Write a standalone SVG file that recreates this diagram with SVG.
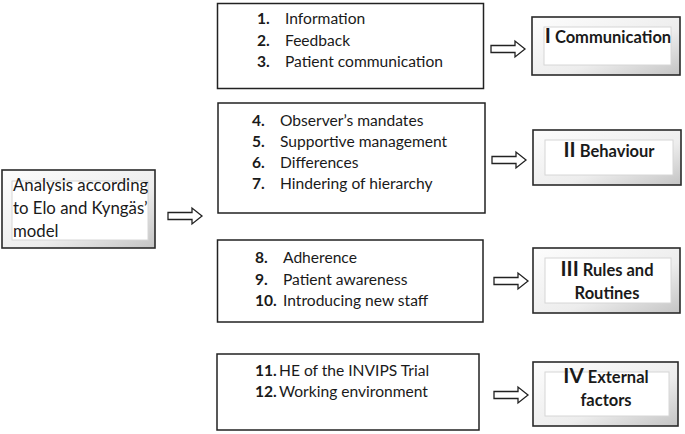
<svg xmlns="http://www.w3.org/2000/svg" width="685" height="434" viewBox="0 0 685 434">
<style>
text{font-family:Lato,"Open Sans","Liberation Sans",sans-serif;fill:#1a1a1a}
.item{font-size:15.6px}
.big{font-size:16.8px}
.num{font-weight:bold}
.lab{font-size:16.5px;font-weight:bold;text-anchor:middle}
.rn{font-size:20.5px}
.box{fill:#fff;stroke:#222;stroke-width:1.5}
.outer{fill:url(#bev);stroke:#2a2a2a;stroke-width:1.6}
.inner{fill:#fff;stroke:#d6d6d6;stroke-width:1}
.arr{fill:#fff;stroke:#222;stroke-width:1.3;stroke-linejoin:miter}
</style>
<defs>
<linearGradient id="bev" x1="0" y1="0" x2="1" y2="1">
<stop offset="0" stop-color="#fdfdfd"/>
<stop offset="0.6" stop-color="#ededed"/>
<stop offset="1" stop-color="#c4c4c4"/>
</linearGradient>
<path id="arrow" class="arr" d="M0,-3.5 H24 V-8 L34,0 L24,8 V3.5 H0 Z"/>
</defs>
<rect width="685" height="434" fill="#fff"/>

<g id="node-analysis">
<rect class="outer" x="2" y="170" width="153" height="78"/>
<rect class="inner" x="12" y="181" width="136" height="59"/>
<text class="big" x="13" y="191">Analysis according</text>
<text class="big" x="13" y="214">to Elo and Kyngäs’</text>
<text class="big" x="13" y="237">model</text>
</g>

<g id="node-list1">
<rect class="box" x="217.5" y="3.5" width="266" height="85"/>
<text class="item"><tspan class="num" x="257" y="24">1.</tspan><tspan x="285">Information</tspan></text>
<text class="item"><tspan class="num" x="257" y="46">2.</tspan><tspan x="285">Feedback</tspan></text>
<text class="item"><tspan class="num" x="257" y="67">3.</tspan><tspan x="285">Patient communication</tspan></text>
</g>

<g id="node-list2">
<rect class="box" x="218" y="103" width="267" height="110"/>
<text class="item"><tspan class="num" x="252" y="126">4.</tspan><tspan x="280">Observer’s mandates</tspan></text>
<text class="item"><tspan class="num" x="252" y="147">5.</tspan><tspan x="280">Supportive management</tspan></text>
<text class="item"><tspan class="num" x="252" y="168">6.</tspan><tspan x="280">Differences</tspan></text>
<text class="item"><tspan class="num" x="252" y="189">7.</tspan><tspan x="280">Hindering of hierarchy</tspan></text>
</g>

<g id="node-list3">
<rect class="box" x="217.5" y="240" width="265.5" height="82"/>
<text class="item"><tspan class="num" x="255" y="263">8.</tspan><tspan x="283">Adherence</tspan></text>
<text class="item"><tspan class="num" x="255" y="285">9.</tspan><tspan x="283">Patient awareness</tspan></text>
<text class="item"><tspan class="num" x="255" y="306">10.</tspan><tspan x="283">Introducing new staff</tspan></text>
</g>

<g id="node-list4">
<rect class="box" x="217" y="354" width="262" height="76"/>
<text class="item"><tspan class="num" x="255" y="376">11.</tspan><tspan x="279">HE of the INVIPS Trial</tspan></text>
<text class="item"><tspan class="num" x="255" y="397">12.</tspan><tspan x="279">Working environment</tspan></text>
</g>

<g id="node-communication">
<rect class="outer" x="532" y="17" width="148" height="58"/>
<rect class="inner" x="544" y="27" width="127" height="38"/>
<text class="lab" x="608" y="43"><tspan class="rn">I</tspan> Communication</text>
</g>

<g id="node-behaviour">
<rect class="outer" x="533" y="130" width="148" height="55"/>
<rect class="inner" x="545" y="140" width="128" height="35"/>
<text class="lab" x="609" y="157"><tspan class="rn">II</tspan> Behaviour</text>
</g>

<g id="node-rules">
<rect class="outer" x="533" y="248" width="147" height="65"/>
<rect class="inner" x="545" y="258" width="126" height="45"/>
<text class="lab" x="607" y="276"><tspan class="rn">III</tspan> Rules and</text>
<text class="lab" x="607" y="299">Routines</text>
</g>

<g id="node-external">
<rect class="outer" x="533" y="362" width="145" height="64"/>
<rect class="inner" x="545" y="372" width="124" height="44"/>
<text class="lab" x="606" y="383"><tspan class="rn">IV</tspan> External</text>
<text class="lab" x="606" y="406">factors</text>
</g>

<g id="connectors">
<use href="#arrow" x="168" y="216"/>
<use href="#arrow" x="491" y="49"/>
<use href="#arrow" x="492" y="160"/>
<use href="#arrow" x="494" y="281"/>
<use href="#arrow" x="494" y="395"/>
</g>
</svg>
